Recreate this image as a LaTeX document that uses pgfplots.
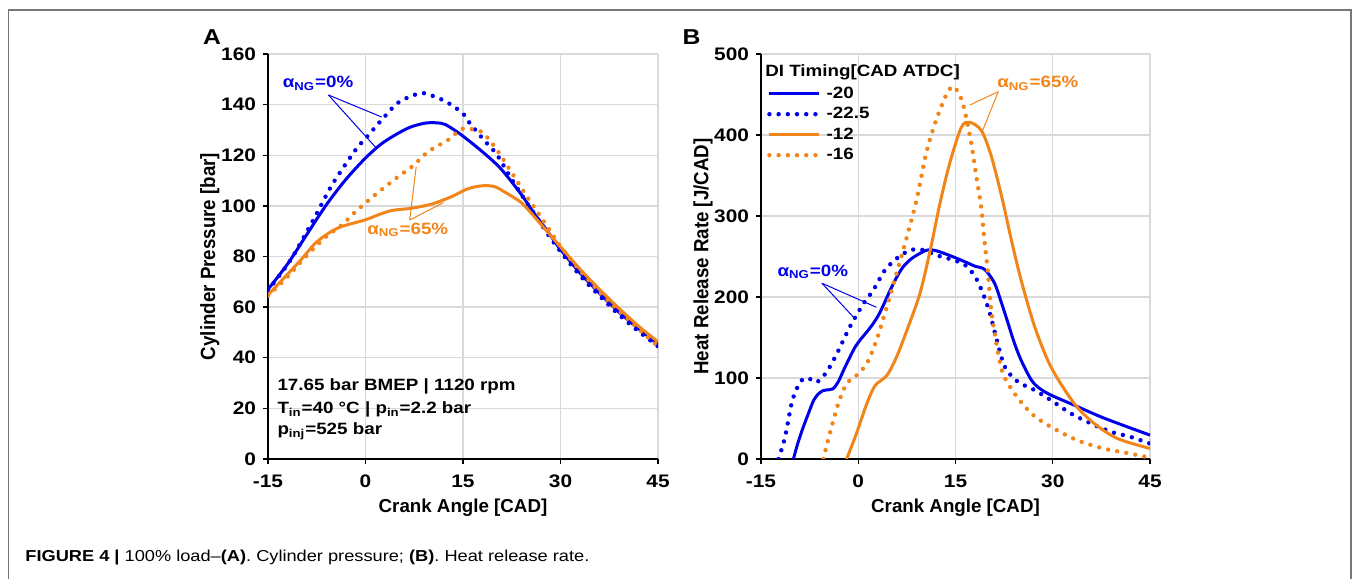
\documentclass[border=0pt]{standalone}
\usepackage{fontspec}
\setmainfont[FakeStretch=1.15]{Liberation Sans}
\newfontfamily\plainsans{Liberation Sans}
\usepackage{pgfplots}
\pgfplotsset{compat=1.18}
\definecolor{cblue}{RGB}{0,0,235}
\definecolor{corange}{RGB}{242,133,25}
\definecolor{cgrid}{RGB}{217,217,217}
\definecolor{cframe}{RGB}{120,120,120}
\newcommand{\sub}[1]{\textsubscript{#1}}
\tikzset{ann/.style={font=\bfseries\fontsize{8.2}{9}\selectfont, inner sep=0pt}}
\pgfplotsset{
  base/.style={
    scale only axis, height=202.5bp,
    xmin=-15, xmax=45,
    axis x line*=bottom, axis y line*=left,
    axis line style={black, line width=0.7bp, -},
    grid=major, major grid style={cgrid, line width=0.7bp},
    tick align=outside, major tick length=2.5bp,
    tick style={black, line width=0.7bp},
    xtick={-15,0,15,30,45}, xticklabels={-15,0,15,30,45},
    ticklabel style={font=\bfseries\fontsize{9.1}{10}\selectfont},
    xticklabel style={yshift=-2bp},
    xlabel={Crank Angle [CAD]},
    xlabel style={font=\plainsans\bfseries\fontsize{9.4}{11}\selectfont, at={(axis description cs:0.5,-0.121)}, anchor=center},
    ylabel style={font=\plainsans\bfseries\fontsize{9.4}{11}\selectfont, at={(axis description cs:-0.149,0.5)}, anchor=center, yscale=1.1},
  },
  sol/.style={line width=1.5bp, smooth},
  dot/.style={line width=2.2bp, line cap=round, dash pattern=on 0bp off 4.6bp, smooth},
}
\begin{document}
\begin{tikzpicture}
\useasboundingbox (0,0) rectangle (677bp,289.5bp);
\draw[cframe, line width=0.7bp] (4.15bp,-5bp) rectangle (675.5bp,284.5bp);
\node[anchor=base west, inner sep=0pt, font=\fontsize{7.95}{9}\selectfont] at (12.5bp,8.65bp)
  {\textbf{FIGURE 4 |} 100\% load–\textbf{(A)}. Cylinder pressure; \textbf{(B)}. Heat release rate.};
\node[font=\bfseries\fontsize{10.8}{12}\selectfont, inner sep=0pt] at (106bp,271bp) {A};
\node[font=\bfseries\fontsize{10.8}{12}\selectfont, inner sep=0pt] at (345.75bp,271bp) {B};

% ---------------- Panel A ----------------
\begin{axis}[base, width=195bp, at={(134bp,60bp)}, anchor=south west,
  ymin=0, ymax=160, ytick={0,20,...,160}, yticklabels={0,20,40,60,80,100,120,140,160},
  ylabel={Cylinder Pressure [bar]}]
% blue solid (alpha 0%, -20)
\addplot[sol, cblue] coordinates {
(-15,67) (-12,77) (-9,88.8) (-6,100.5) (-3,110.5) (0,118.9)
(2.5,124.6) (5.1,128.8) (7,131.2) (9.2,132.7) (11,132.8) (12.3,132.1) (14.5,128.5)
(17.6,122.2) (20.7,115) (23.8,105.1) (25.9,97.2) (28,90) (30,82.8) (33,73.5) (36,65.5)
(39,58) (42,51.5) (45,45.3)};
% blue dotted (alpha 0%, -22.5)
\addplot[dot, cblue] coordinates {
(-15,66.5) (-13.8,70.6) (-12,76.8) (-10.5,83) (-7.7,96) (-5.1,108.5) (-1.5,122.2) (0.3,127.5)
(2.6,134.3) (5.1,140.9) (8.2,144.4) (9.7,144) (12.3,141.3) (14.9,136.7) (16,132.8)
(18.4,125.5) (20.2,120.3) (22.2,111.7) (24.3,103.2) (26.4,95.3) (28,89) (30,82) (33,72.5)
(36,64.5) (39,57) (42,50.5) (45,44.5)};
% orange solid (alpha 65%, -12)
\addplot[sol, corange] coordinates {
(-15,64.8) (-12.8,70.8) (-10,78.5) (-7.7,85.3) (-5.5,89.5) (-3.6,91.9) (0,94.5) (2,96.5)
(4.1,98.2) (7.2,99.1) (10.3,100.8) (13.3,103.7) (15.4,106.4) (17,107.6) (18.6,108)
(20,107.5) (21.2,105.8) (23,103) (24.3,100.5) (27.4,91.5) (30,83.8) (33,75) (36,67)
(39,59.5) (42,52.5) (45,46.3)};
% orange dotted (alpha 65%, -16)
\addplot[dot, corange] coordinates {
(-15,64.5) (-12,72) (-9,80.5) (-6,88) (-3.6,92.5) (-1.5,97.8) (1.5,104.4) (5.1,111.7)
(7.2,115.6) (9.7,121.5) (12.8,126.2) (14.5,130) (15.6,130.7) (16.6,130.1) (18.1,128.8)
(20.2,122.2) (22.2,114.3) (24.8,103.8) (26.9,95.9) (30,84) (33,74.5) (36,66) (39,58.5)
(42,51.5) (45,44.5)};
% annotations
\node[ann, text=cblue] at (axis cs:-7.3,148.4) {α\sub{NG}=0\%};
\draw[cblue, line width=0.5bp] (axis cs:-5.7,143.8) -- (axis cs:2.5,135.1);
\draw[cblue, line width=0.5bp] (axis cs:-5.7,143.8) -- (axis cs:1.6,123);
\node[ann, text=corange] at (axis cs:6.5,90.5) {α\sub{NG}=65\%};
\draw[corange, line width=0.5bp] (axis cs:6.8,94.4) -- (axis cs:7.8,115.5);
\draw[corange, line width=0.5bp] (axis cs:6.8,94.4) -- (axis cs:12,101.3);
\node[ann, anchor=west, text=black] at (axis cs:-13.6,28.6) {17.65 bar BMEP | 1120 rpm};
\node[ann, anchor=west, text=black] at (axis cs:-13.6,19.4) {T\sub{in}=40 °C | p\sub{in}=2.2 bar};
\node[ann, anchor=west, text=black] at (axis cs:-13.6,10.8) {p\sub{inj}=525 bar};
\end{axis}

% ---------------- Panel B ----------------
\begin{axis}[base, width=194.5bp, at={(380.5bp,60bp)}, anchor=south west,
  ymin=0, ymax=500, ytick={0,100,...,500}, yticklabels={0,100,200,300,400,500},
  ylabel={Heat Release Rate [J/CAD]},
  legend cell align=left,
  legend image code/.code={\draw[#1] (0bp,0bp) -- (25bp,0bp);},
  legend style={at={(axis cs:-14.1,462)}, anchor=north west, draw=none, fill=none,
    font=\bfseries\fontsize{8.2}{9}\selectfont, inner sep=0pt, row sep=1.75bp,
    nodes={inner sep=0.5bp, text height=6bp, text depth=1.5bp}, /tikz/column sep=2bp}]
\addplot[sol, cblue] coordinates {
(-10,0) (-9.3,20) (-8.5,39) (-7.6,58) (-6.9,72) (-6.2,80) (-5.4,84.5) (-4.5,85.5) (-3.9,86.6)
(-3.1,95) (-2.3,109) (-1.4,124) (-0.5,138) (0.4,148) (1.3,156.7) (2.2,166) (3.1,177.3)
(4,192) (4.9,208) (5.9,224) (6.9,237) (8,246) (9,251.5) (10.5,257.7) (11.5,258) (12.6,255.7)
(14.5,250) (16.9,242) (18,238) (19.5,234) (21,217.4) (22,195) (23.1,167.8) (24,145)
(25.1,122.3) (26.7,97.5) (28,87) (29.7,79) (33.3,66.5) (37.4,52.1) (41.5,39.7) (45,29.5)};
\addlegendentry{-20}
\addplot[dot, cblue] coordinates {
(-12.3,0) (-11.3,26.8) (-10.3,68) (-9.5,86.6) (-8.5,99) (-7.5,99) (-6.4,94.8) (-4.9,107.2)
(-3.3,130) (-1.3,163) (0.8,191.8) (2.3,208.2) (4.1,233) (5.9,247.4) (7.5,256) (8.5,258.6)
(10,258) (12.1,251.5) (14.4,246.3) (16.4,240) (18,225.6) (19.2,205) (20.3,180) (21.2,152)
(22.6,114) (24.6,95.5) (27.2,85.1) (29.7,72.7) (32.8,56.2) (35.9,43.8) (39,33.5) (42,27.3) (45,19)};
\addlegendentry{-22.5}
\addplot[sol, corange] coordinates {
(-1.8,0) (-0.3,31) (1.3,68) (2.6,90.7) (4.4,103) (5.9,125.8) (7.5,158.8) (9.5,204)
(11.1,257.7) (12.6,315.5) (14.1,365) (15.9,409.5) (17.2,415.7) (19,405.4) (20.5,374.4)
(22.1,324.8) (23.6,271) (25.1,221.5) (27.2,163.6) (29.7,114) (33.3,68.6) (36.4,43.8)
(40,25.2) (45,13)};
\addlegendentry{-12}
\addplot[dot, corange] coordinates {
(-5.4,0) (-4.4,31) (-3.1,68) (-1.8,92.8) (-0.3,103) (1.3,117.5) (2.8,146.4) (4.4,187.6)
(5.9,228.9) (7.5,274.2) (9,320) (10.5,378) (12,418) (13.6,450) (14.7,460) (15.9,444.6)
(16.7,419.8) (17.5,386.8) (18.2,349.6) (19,308.3) (19.5,267) (20,229.8) (20.5,184.3)
(21.3,143) (22.3,105.8) (24.1,81) (26.7,56.2) (29.7,39.7) (33.8,23.1) (37.9,12.8) (42,6.6) (45,1.5)};
\addlegendentry{-16}
\node[ann, anchor=west, text=black] at (axis cs:-14.4,478) {DI Timing[CAD ATDC]};
\node[ann, text=corange] at (axis cs:27.7,464) {α\sub{NG}=65\%};
\draw[corange, line width=0.5bp] (axis cs:21.6,453.5) -- (axis cs:17.2,437);
\draw[corange, line width=0.5bp] (axis cs:21.6,453.5) -- (axis cs:19,402);
\node[ann, text=cblue] at (axis cs:-7,231) {α\sub{NG}=0\%};
\draw[cblue, line width=0.5bp] (axis cs:-5.6,217) -- (axis cs:-0.8,175.7);
\draw[cblue, line width=0.5bp] (axis cs:-5.6,217) -- (axis cs:2.8,187.3);
\end{axis}
\end{tikzpicture}
\end{document}
